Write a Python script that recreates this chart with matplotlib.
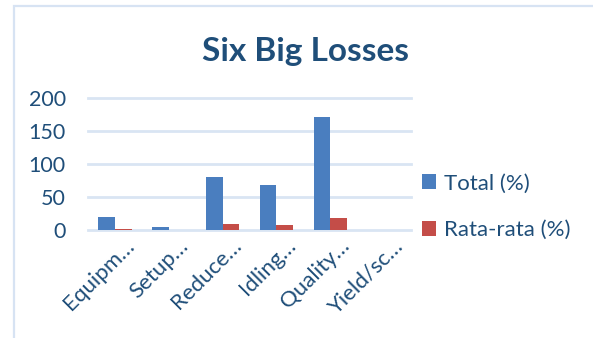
import matplotlib
matplotlib.use("Agg")
import matplotlib.pyplot as plt
import matplotlib.transforms as mtrans
import numpy as np
from matplotlib.patches import Rectangle

categories = ["Equipm…", "Setup…", "Reduce…", "Idling…", "Quality…", "Yield/sc…"]
total = [20, 5, 80, 68, 171, 0]
rata = [1.5, 0, 9, 7.5, 18.5, 0]
yticks = [0, 50, 100, 150, 200]

plt.rcParams['font.family'] = ['Lato', 'DejaVu Sans']
txt = '#1f4e79'
W, H = 593, 338
fig = plt.figure(figsize=(W/100, H/100), dpi=100)
ax = fig.add_axes([88/W, (H-230)/H, (411-88)/W, (230-98)/H])

x = np.arange(len(categories))
bw = 0.31
ax.bar(x - bw/2, total, bw, color='#4a7ebf', label='Total (%)', zorder=3)
ax.bar(x + bw/2, rata, bw, color='#c44d48', label='Rata-rata (%)', zorder=3)

for v in yticks:
    ax.axhline(v, color='#d9e5f3', lw=2, zorder=1, clip_on=False)
ax.set_xlim(-0.5, len(categories) - 0.5)
ax.set_ylim(0, 200)
ax.set_yticks(yticks)
ax.set_yticklabels([str(v) for v in yticks], color=txt, fontsize=15.5)
ax.set_xticks(x)
ax.set_xticklabels(categories, rotation=45, ha='right', rotation_mode='anchor',
                   color=txt, fontsize=16)
ax.tick_params(length=0)
ax.tick_params(axis='y', pad=16)
ax.tick_params(axis='x', pad=4)
off = mtrans.ScaledTranslation(9/100, 0, fig.dpi_scale_trans)
for lab in ax.get_xticklabels():
    lab.set_transform(lab.get_transform() + off)
for s in ax.spines.values():
    s.set_visible(False)

fig.text(305/W, (H-52)/H, "Six Big Losses", fontsize=24, fontweight='bold', color=txt,
         ha='center', va='center')

leg = fig.legend(loc='center left', bbox_to_anchor=(413/W, (H-207)/H), frameon=False,
                 fontsize=16, handlelength=0.65, handleheight=0.65, handletextpad=0.35,
                 labelspacing=1.2, borderaxespad=0)
for t in leg.get_texts():
    t.set_color(txt)

fig.patches.append(Rectangle((13.5/W, -0.05), 1, (H-5.5)/H + 0.05, transform=fig.transFigure,
                             fill=False, edgecolor='#d7e3f3', lw=1.6))
fig.savefig('out.png', dpi=100)
